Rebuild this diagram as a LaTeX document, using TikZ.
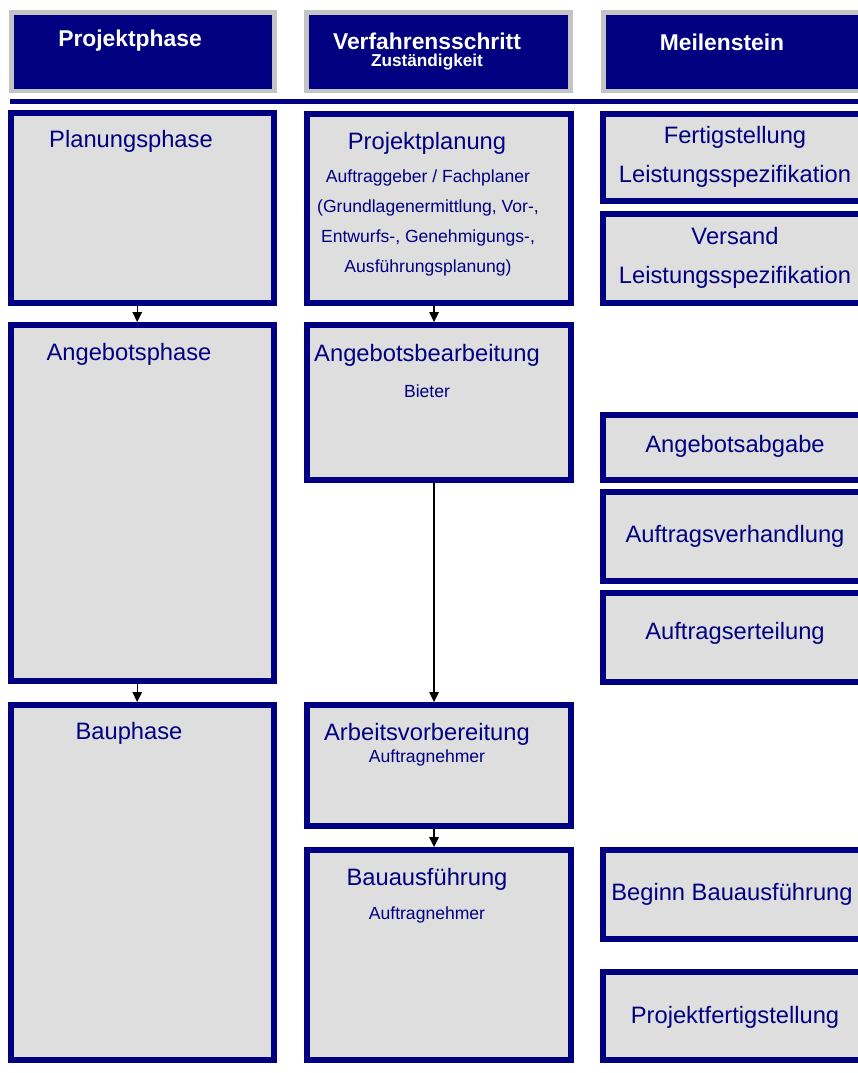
\documentclass[tikz,border=0pt]{standalone}
\usepackage{fontspec}
\setmainfont{Liberation Sans}
\usetikzlibrary{arrows.meta}
\definecolor{navy}{RGB}{0,0,128}
\definecolor{headgray}{RGB}{196,196,196}
\definecolor{boxgray}{RGB}{222,222,222}
\tikzset{
	headbox/.style={draw=headgray, line width=0.1cm, fill=navy, inner sep=0},
	stepbox/.style={draw=navy, line width=0.12cm, fill=boxgray, inner sep=0},
	headtext/.style={text=white, font=\bfseries\fontsize{13}{15}\selectfont},
	headsub/.style={text=white, font=\bfseries\fontsize{9.8}{11}\selectfont},
	boxtitle/.style={text=navy, align=center, font=\fontsize{13.5}{22.2}\selectfont},
	boxnote/.style={text=navy, align=center, font=\fontsize{10}{17}\selectfont},
	flow/.style={-{Triangle[width=0.19cm,length=0.2cm]}, line width=0.8pt}
}
\begin{document}
\begin{tikzpicture}[x=0.02cm,y=-0.02cm]
	\useasboundingbox (0,0) rectangle (858,1073);
	\clip (0,0) rectangle (858,1073);
	%% Header
	\node[headbox, minimum width=5.28cm, minimum height=1.58cm] (hphase) at (143,51.5) {};
	\node[headbox, minimum width=5.30cm, minimum height=1.58cm] (hstep) at (438.5,51.5) {};
	\node[headbox, minimum width=5.34cm, minimum height=1.58cm] (hmile) at (736.5,51.5) {};
	\node[headtext] (thphase) at (130,41) {Projektphase};
	\node[headtext] (thstep) at (427,41) {Verfahrensschritt};
	\node[headsub] (thsub) at (427,62) {Zuständigkeit};
	\node[headtext] (thmile) at (722,42) {Meilenstein};
	\draw[navy, line width=0.09cm] (10,101.5) -- (870,101.5);
	%% Projektphase
	\node[stepbox, minimum width=5.26cm, minimum height=3.80cm] (plan) at (142.5,208) {};
	\node[stepbox, minimum width=5.26cm, minimum height=7.12cm] (angebot) at (142.5,503) {};
	\node[stepbox, minimum width=5.26cm, minimum height=7.10cm] (bau) at (142.5,882.5) {};
	\node[boxtitle] (tplan) at (131,141) {Planungsphase};
	\node[boxtitle] (tangebot) at (129,354) {Angebotsphase};
	\node[boxtitle] (tbau) at (129,733) {Bauphase};
	%% Verfahrensschritt
	\node[stepbox, minimum width=5.28cm, minimum height=3.78cm] (projplan) at (439,208.5) {};
	\node[stepbox, minimum width=5.28cm, minimum height=3.10cm] (angbearb) at (439,402.5) {};
	\node[stepbox, minimum width=5.28cm, minimum height=2.42cm] (arbvor) at (439,765.5) {};
	\node[stepbox, minimum width=5.28cm, minimum height=4.20cm] (bauausf) at (439,955) {};
	\node[boxtitle] (tprojplan) at (427,143) {Projektplanung};
	\node[boxnote] (nprojplan) at (428,223) {Auftraggeber / Fachplaner\\(Grundlagenermittlung, Vor-,\\Entwurfs-, Genehmigungs-,\\Ausführungsplanung)};
	\node[boxtitle] (tangbearb) at (427,355) {Angebotsbearbeitung};
	\node[boxnote] (nangbearb) at (427,391) {Bieter};
	\node[boxtitle] (tarbvor) at (427,734) {Arbeitsvorbereitung};
	\node[boxnote] (narbvor) at (427,758) {Auftragnehmer};
	\node[boxtitle] (tbauausf) at (427,879) {Bauausführung};
	\node[boxnote] (nbauausf) at (427,915) {Auftragnehmer};
	%% Meilenstein
	\node[stepbox, minimum width=5.34cm, minimum height=1.74cm] (fertig) at (736.5,157.5) {};
	\node[stepbox, minimum width=5.34cm, minimum height=1.78cm] (versand) at (736.5,258.5) {};
	\node[stepbox, minimum width=5.34cm, minimum height=1.30cm] (abgabe) at (736.5,447.5) {};
	\node[stepbox, minimum width=5.34cm, minimum height=1.78cm] (verhandl) at (736.5,536.5) {};
	\node[stepbox, minimum width=5.34cm, minimum height=1.78cm] (erteil) at (736.5,637.5) {};
	\node[stepbox, minimum width=5.34cm, minimum height=1.78cm] (beginn) at (736.5,894.5) {};
	\node[stepbox, minimum width=5.34cm, minimum height=1.76cm] (fertigst) at (736.5,1016) {};
	\node[boxtitle] (tfertig) at (735,156.5) {Fertigstellung\\Leistungsspezifikation};
	\node[boxtitle] (tversand) at (735,257.5) {Versand\\Leistungsspezifikation};
	\node[boxtitle] (tabgabe) at (735,446) {Angebotsabgabe};
	\node[boxtitle] (tverhandl) at (735,536) {Auftragsverhandlung};
	\node[boxtitle] (terteil) at (735,633) {Auftragserteilung};
	\node[boxtitle] (tbeginn) at (732,894) {Beginn Bauausführung};
	\node[boxtitle] (tfertigst) at (735,1017) {Projektfertigstellung};
	%% Pfeile
	\draw[flow] ([xshift=-3pt]plan.south) -- ([xshift=-3pt]angebot.north);
	\draw[flow] ([xshift=-3pt]angebot.south) -- ([xshift=-3pt]bau.north);
	\draw[flow] ([xshift=-2.8pt]projplan.south) -- ([xshift=-2.8pt]angbearb.north);
	\draw[flow] ([xshift=-2.8pt]angbearb.south) -- ([xshift=-2.8pt]arbvor.north);
	\draw[flow] ([xshift=-2.8pt]arbvor.south) -- ([xshift=-2.8pt]bauausf.north);
\end{tikzpicture}
\end{document}
